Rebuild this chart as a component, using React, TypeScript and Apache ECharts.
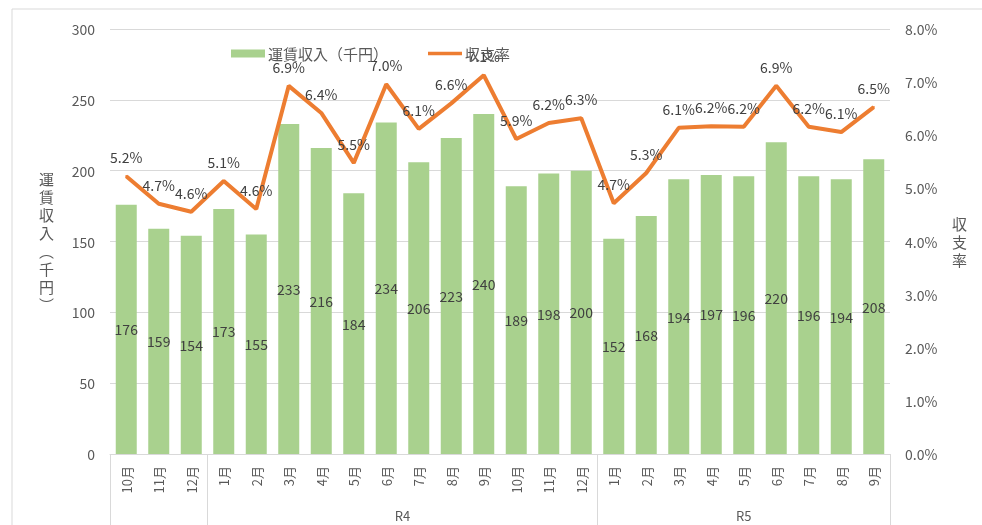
import React, { useEffect, useRef } from "react";
import * as echarts from "echarts";

const months = [
  "10月", "11月", "12月",
  "1月", "2月", "3月", "4月", "5月", "6月", "7月", "8月", "9月", "10月", "11月", "12月",
  "1月", "2月", "3月", "4月", "5月", "6月", "7月", "8月", "9月",
];
const groupNames = ["", "R4", "R5"];
const groupCounts = [3, 12, 9];
const revenue = [176, 159, 154, 173, 155, 233, 216, 184, 234, 206, 223, 240, 189, 198, 200, 152, 168, 194, 197, 196, 220, 196, 194, 208];
const ratio = [5.23, 4.71, 4.56, 5.14, 4.61, 6.93, 6.42, 5.48, 6.96, 6.12, 6.6, 7.13, 5.93, 6.23, 6.32, 4.72, 5.29, 6.14, 6.17, 6.16, 6.93, 6.16, 6.06, 6.53];
const leftTicks = { min: 0, max: 300, interval: 50 };
const rightTicks = { min: 0, max: 8, interval: 1 };

const FONT = "'Noto Sans CJK JP', 'Noto Sans', sans-serif";
const GRAY = "#595959";
const DARK = "#404040";
const LINE = "#d9d9d9";
const ORANGE = "#ed7d31";

export default function App() {
  const ref = useRef<HTMLDivElement>(null);
  useEffect(() => {
    if (!ref.current) return;
    const chart = echarts.init(ref.current, null, { renderer: "svg" });
    const starts: number[] = [];
    const centers: { pos: number; name: string }[] = [];
    let acc = 0;
    groupCounts.forEach((c, i) => {
      starts.push(acc);
      centers.push({ pos: acc + c / 2, name: groupNames[i] });
      acc += c;
    });
    chart.setOption({
      animation: false,
      textStyle: { fontFamily: FONT },
      grid: { left: 110, right: 92, top: 29, bottom: 71 },
      legend: {
        left: 226,
        top: 41,
        itemWidth: 34,
        itemHeight: 8,
        itemGap: 40,
        textStyle: { color: GRAY, fontSize: 15, fontFamily: FONT, padding: [0, 0, 0, -2] },
        data: [
          { name: "運賃収入（千円）", icon: "rect" },
          { name: "収支率", icon: "path://M0,0 L38,0 L38,4 L0,4 Z" },
        ],
      },
      graphic: [
        {
          type: "rect",
          shape: { x: 12, y: 9, width: 1000, height: 600 },
          style: { fill: "none", stroke: LINE, lineWidth: 1 },
          silent: true,
        },
      ],
      xAxis: [
        {
          type: "category",
          data: months,
          axisLine: { lineStyle: { color: LINE } },
          axisTick: {
            show: true,
            length: 80,
            lineStyle: { color: LINE },
            interval: (index: number) => starts.includes(index),
          },
          axisLabel: {
            rotate: 90,
            color: GRAY,
            fontSize: 13,
            margin: 12,
            interval: 0,
            fontFamily: FONT,
          },
        },
        {
          type: "value",
          position: "bottom",
          min: 0,
          max: months.length,
          interval: 0.5,
          axisLine: { show: false },
          axisTick: { show: false },
          splitLine: { show: false },
          axisLabel: {
            color: GRAY,
            fontSize: 13,
            margin: 55,
            showMinLabel: true,
            showMaxLabel: true,
            fontFamily: FONT,
            formatter: (v: number) => {
              const g = centers.find((c) => Math.abs(c.pos - v) < 1e-6);
              return g ? g.name : "";
            },
          },
        },
      ],
      yAxis: [
        {
          type: "value",
          ...leftTicks,
          name: "運\n賃\n収\n入\n︵\n千\n円\n︶",
          nameLocation: "middle",
          nameRotate: 0,
          nameGap: 56,
          nameTextStyle: { color: GRAY, fontSize: 15, lineHeight: 18, fontFamily: FONT },
          axisLine: { show: false },
          axisTick: { show: false },
          splitLine: { lineStyle: { color: LINE } },
          axisLabel: { color: GRAY, fontSize: 14, margin: 15, fontFamily: FONT },
        },
        {
          type: "value",
          ...rightTicks,
          name: "収\n支\n率",
          nameLocation: "middle",
          nameRotate: 0,
          nameGap: 62,
          nameTextStyle: { color: GRAY, fontSize: 15, lineHeight: 18, fontFamily: FONT },
          axisLine: { show: false },
          axisTick: { show: false },
          splitLine: { show: false },
          axisLabel: {
            color: GRAY,
            fontSize: 14,
            margin: 15,
            fontFamily: FONT,
            formatter: (v: number) => v.toFixed(1) + "%",
          },
        },
      ],
      series: [
        {
          name: "運賃収入（千円）",
          type: "bar",
          data: revenue,
          barWidth: 21,
          itemStyle: { color: "#a9d18e" },
          label: {
            show: true,
            position: "inside",
            color: DARK,
            fontSize: 14,
            fontFamily: FONT,
          },
        },
        {
          name: "収支率",
          type: "line",
          yAxisIndex: 1,
          data: ratio,
          symbol: "circle",
          symbolSize: 2,
          showSymbol: true,
          lineStyle: { color: ORANGE, width: 4 },
          itemStyle: { color: ORANGE },
          label: {
            show: true,
            position: "top",
            distance: 11,
            color: DARK,
            fontSize: 14,
            fontFamily: FONT,
            formatter: (p: any) => Number(p.value).toFixed(1) + "%",
          },
        },
      ],
    });
    return () => chart.dispose();
  }, []);
  return (
    <div
      ref={ref}
      style={{ width: 982, height: 525, position: "fixed", left: 0, top: 0 }}
    />
  );
}
